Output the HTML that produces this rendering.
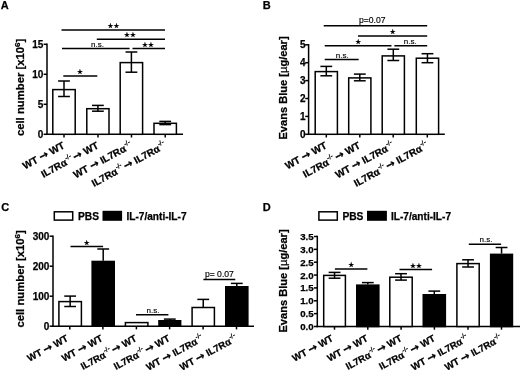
<!DOCTYPE html>
<html><head><meta charset="utf-8"><title>Figure</title>
<style>
html,body{margin:0;padding:0;background:#fff;}
body{width:520px;height:373px;overflow:hidden;}
svg{display:block;font-family:'Liberation Sans', sans-serif;}
svg text{fill:#000;}
</style></head><body>
<svg width="520" height="373" viewBox="0 0 520 373">
<rect x="0" y="0" width="520" height="373" fill="#fff"/>
<text x="0.80" y="9.40" font-size="11" font-weight="bold" text-anchor="start"  stroke="#000" stroke-width="0.25">A</text>
<line x1="47.00" y1="43.55" x2="47.00" y2="135.05" stroke="#000" stroke-width="1.5"/>
<line x1="46.25" y1="134.30" x2="183.00" y2="134.30" stroke="#000" stroke-width="1.5"/>
<line x1="43.60" y1="44.30" x2="47.00" y2="44.30" stroke="#000" stroke-width="1.5"/>
<text x="43.40" y="47.90" font-size="10" font-weight="bold" text-anchor="end"  stroke="#000" stroke-width="0.25">15</text>
<line x1="43.60" y1="74.30" x2="47.00" y2="74.30" stroke="#000" stroke-width="1.5"/>
<text x="43.40" y="77.90" font-size="10" font-weight="bold" text-anchor="end"  stroke="#000" stroke-width="0.25">10</text>
<line x1="43.60" y1="104.30" x2="47.00" y2="104.30" stroke="#000" stroke-width="1.5"/>
<text x="43.40" y="107.90" font-size="10" font-weight="bold" text-anchor="end"  stroke="#000" stroke-width="0.25">5</text>
<line x1="43.60" y1="134.30" x2="47.00" y2="134.30" stroke="#000" stroke-width="1.5"/>
<text x="43.40" y="137.90" font-size="10" font-weight="bold" text-anchor="end"  stroke="#000" stroke-width="0.25">0</text>
<line x1="64.00" y1="134.30" x2="64.00" y2="137.50" stroke="#000" stroke-width="1.5"/>
<line x1="98.00" y1="134.30" x2="98.00" y2="137.50" stroke="#000" stroke-width="1.5"/>
<line x1="131.50" y1="134.30" x2="131.50" y2="137.50" stroke="#000" stroke-width="1.5"/>
<line x1="165.20" y1="134.30" x2="165.20" y2="137.50" stroke="#000" stroke-width="1.5"/>
<text transform="translate(24.40,87.40) rotate(-90)" font-size="11.3" font-weight="bold" text-anchor="middle" stroke="#000" stroke-width="0.25">cell number [x10<tspan font-size="8" dy="-4.6">6</tspan><tspan dy="4.6">]</tspan></text>
<rect x="52.80" y="89.60" width="22.40" height="44.70" fill="#fff" stroke="#000" stroke-width="1.5"/>
<line x1="64.00" y1="81.00" x2="64.00" y2="96.50" stroke="#000" stroke-width="1.5"/>
<line x1="58.10" y1="81.00" x2="69.90" y2="81.00" stroke="#000" stroke-width="1.5"/>
<line x1="58.10" y1="96.50" x2="69.90" y2="96.50" stroke="#000" stroke-width="1.5"/>
<rect x="86.80" y="108.70" width="22.20" height="25.60" fill="#fff" stroke="#000" stroke-width="1.5"/>
<line x1="97.90" y1="105.40" x2="97.90" y2="111.20" stroke="#000" stroke-width="1.5"/>
<line x1="92.00" y1="105.40" x2="103.80" y2="105.40" stroke="#000" stroke-width="1.5"/>
<line x1="92.00" y1="111.20" x2="103.80" y2="111.20" stroke="#000" stroke-width="1.5"/>
<rect x="120.20" y="62.60" width="22.40" height="71.70" fill="#fff" stroke="#000" stroke-width="1.5"/>
<line x1="131.40" y1="52.00" x2="131.40" y2="72.20" stroke="#000" stroke-width="1.5"/>
<line x1="125.50" y1="52.00" x2="137.30" y2="52.00" stroke="#000" stroke-width="1.5"/>
<line x1="125.50" y1="72.20" x2="137.30" y2="72.20" stroke="#000" stroke-width="1.5"/>
<rect x="154.00" y="123.30" width="22.40" height="11.00" fill="#fff" stroke="#000" stroke-width="1.5"/>
<line x1="165.20" y1="121.40" x2="165.20" y2="124.60" stroke="#000" stroke-width="1.5"/>
<line x1="159.30" y1="121.40" x2="171.10" y2="121.40" stroke="#000" stroke-width="1.5"/>
<line x1="159.30" y1="124.60" x2="171.10" y2="124.60" stroke="#000" stroke-width="1.5"/>
<text transform="translate(65.40,147.60) rotate(-28.5)" font-size="10" font-weight="bold" text-anchor="end" stroke="#000" stroke-width="0.25">WT <tspan font-family="DejaVu Sans, sans-serif" font-size="11">→</tspan> WT</text>
<text transform="translate(99.30,147.60) rotate(-28.5)" font-size="10" font-weight="bold" text-anchor="end" stroke="#000" stroke-width="0.25">IL7Rα<tspan font-size="6.6" font-weight="normal" stroke-width="0.3" dx="0.5" dy="-4.6">-/-</tspan><tspan dy="4.6"> </tspan><tspan dx="-1.3" font-family="DejaVu Sans, sans-serif" font-size="11">→</tspan> WT</text>
<text transform="translate(132.80,147.60) rotate(-28.5)" font-size="10" font-weight="bold" text-anchor="end" stroke="#000" stroke-width="0.25">WT <tspan font-family="DejaVu Sans, sans-serif" font-size="11">→</tspan> IL7Rα<tspan font-size="6.6" font-weight="normal" stroke-width="0.3" dx="0.5" dy="-4.6">-/-</tspan></text>
<text transform="translate(166.60,147.60) rotate(-28.5)" font-size="10" font-weight="bold" text-anchor="end" stroke="#000" stroke-width="0.25">IL7Rα<tspan font-size="6.6" font-weight="normal" stroke-width="0.3" dx="0.5" dy="-4.6">-/-</tspan><tspan dy="4.6"> </tspan><tspan dx="-1.3" font-family="DejaVu Sans, sans-serif" font-size="11">→</tspan> IL7Rα<tspan font-size="6.6" font-weight="normal" stroke-width="0.3" dx="0.5" dy="-4.6">-/-</tspan></text>
<line x1="61.50" y1="30.00" x2="165.00" y2="30.00" stroke="#000" stroke-width="1.5"/>
<text x="113.50" y="28.00" font-size="6.6" font-weight="bold" text-anchor="middle" font-family="DejaVu Sans, sans-serif" stroke="#000" stroke-width="0.25">★★</text>
<line x1="96.80" y1="39.20" x2="165.00" y2="39.20" stroke="#000" stroke-width="1.5"/>
<text x="130.00" y="37.20" font-size="6.6" font-weight="bold" text-anchor="middle" font-family="DejaVu Sans, sans-serif" stroke="#000" stroke-width="0.25">★★</text>
<line x1="62.00" y1="48.60" x2="129.60" y2="48.60" stroke="#000" stroke-width="1.5"/>
<text x="97.50" y="46.80" font-size="8" font-weight="normal" text-anchor="middle" stroke="#000" stroke-width="0.15">n.s.</text>
<line x1="132.50" y1="48.60" x2="165.00" y2="48.60" stroke="#000" stroke-width="1.5"/>
<text x="148.00" y="46.60" font-size="6.6" font-weight="bold" text-anchor="middle" font-family="DejaVu Sans, sans-serif" stroke="#000" stroke-width="0.25">★★</text>
<line x1="63.30" y1="76.00" x2="97.30" y2="76.00" stroke="#000" stroke-width="1.5"/>
<text x="80.00" y="74.00" font-size="6.6" font-weight="bold" text-anchor="middle" font-family="DejaVu Sans, sans-serif" stroke="#000" stroke-width="0.25">★</text>
<text x="262.80" y="9.40" font-size="11" font-weight="bold" text-anchor="start"  stroke="#000" stroke-width="0.25">B</text>
<line x1="308.60" y1="44.05" x2="308.60" y2="135.05" stroke="#000" stroke-width="1.5"/>
<line x1="307.85" y1="134.30" x2="444.80" y2="134.30" stroke="#000" stroke-width="1.5"/>
<line x1="305.20" y1="44.80" x2="308.60" y2="44.80" stroke="#000" stroke-width="1.5"/>
<text x="305.50" y="48.40" font-size="10" font-weight="bold" text-anchor="end"  stroke="#000" stroke-width="0.25">5</text>
<line x1="305.20" y1="62.70" x2="308.60" y2="62.70" stroke="#000" stroke-width="1.5"/>
<text x="305.50" y="66.30" font-size="10" font-weight="bold" text-anchor="end"  stroke="#000" stroke-width="0.25">4</text>
<line x1="305.20" y1="80.60" x2="308.60" y2="80.60" stroke="#000" stroke-width="1.5"/>
<text x="305.50" y="84.20" font-size="10" font-weight="bold" text-anchor="end"  stroke="#000" stroke-width="0.25">3</text>
<line x1="305.20" y1="98.50" x2="308.60" y2="98.50" stroke="#000" stroke-width="1.5"/>
<text x="305.50" y="102.10" font-size="10" font-weight="bold" text-anchor="end"  stroke="#000" stroke-width="0.25">2</text>
<line x1="305.20" y1="116.40" x2="308.60" y2="116.40" stroke="#000" stroke-width="1.5"/>
<text x="305.50" y="120.00" font-size="10" font-weight="bold" text-anchor="end"  stroke="#000" stroke-width="0.25">1</text>
<line x1="305.20" y1="134.30" x2="308.60" y2="134.30" stroke="#000" stroke-width="1.5"/>
<text x="305.50" y="137.90" font-size="10" font-weight="bold" text-anchor="end"  stroke="#000" stroke-width="0.25">0</text>
<line x1="326.30" y1="134.30" x2="326.30" y2="137.50" stroke="#000" stroke-width="1.5"/>
<line x1="359.80" y1="134.30" x2="359.80" y2="137.50" stroke="#000" stroke-width="1.5"/>
<line x1="393.20" y1="134.30" x2="393.20" y2="137.50" stroke="#000" stroke-width="1.5"/>
<line x1="427.30" y1="134.30" x2="427.30" y2="137.50" stroke="#000" stroke-width="1.5"/>
<text transform="translate(286.50,88.00) rotate(-90)" font-size="11.1" font-weight="bold" text-anchor="middle" stroke="#000" stroke-width="0.25">Evans Blue [<tspan font-weight="normal">µ</tspan>g/ear]</text>
<rect x="315.20" y="71.60" width="22.20" height="62.70" fill="#fff" stroke="#000" stroke-width="1.5"/>
<line x1="326.30" y1="66.40" x2="326.30" y2="75.80" stroke="#000" stroke-width="1.5"/>
<line x1="320.40" y1="66.40" x2="332.20" y2="66.40" stroke="#000" stroke-width="1.5"/>
<line x1="320.40" y1="75.80" x2="332.20" y2="75.80" stroke="#000" stroke-width="1.5"/>
<rect x="348.70" y="77.90" width="22.20" height="56.40" fill="#fff" stroke="#000" stroke-width="1.5"/>
<line x1="359.80" y1="74.10" x2="359.80" y2="80.80" stroke="#000" stroke-width="1.5"/>
<line x1="353.90" y1="74.10" x2="365.70" y2="74.10" stroke="#000" stroke-width="1.5"/>
<line x1="353.90" y1="80.80" x2="365.70" y2="80.80" stroke="#000" stroke-width="1.5"/>
<rect x="382.20" y="55.90" width="22.20" height="78.40" fill="#fff" stroke="#000" stroke-width="1.5"/>
<line x1="393.30" y1="49.20" x2="393.30" y2="60.50" stroke="#000" stroke-width="1.5"/>
<line x1="387.40" y1="49.20" x2="399.20" y2="49.20" stroke="#000" stroke-width="1.5"/>
<line x1="387.40" y1="60.50" x2="399.20" y2="60.50" stroke="#000" stroke-width="1.5"/>
<rect x="416.30" y="58.20" width="22.30" height="76.10" fill="#fff" stroke="#000" stroke-width="1.5"/>
<line x1="427.45" y1="53.70" x2="427.45" y2="62.70" stroke="#000" stroke-width="1.5"/>
<line x1="421.55" y1="53.70" x2="433.35" y2="53.70" stroke="#000" stroke-width="1.5"/>
<line x1="421.55" y1="62.70" x2="433.35" y2="62.70" stroke="#000" stroke-width="1.5"/>
<text transform="translate(327.70,147.60) rotate(-28.5)" font-size="10" font-weight="bold" text-anchor="end" stroke="#000" stroke-width="0.25">WT <tspan font-family="DejaVu Sans, sans-serif" font-size="11">→</tspan> WT</text>
<text transform="translate(361.20,147.60) rotate(-28.5)" font-size="10" font-weight="bold" text-anchor="end" stroke="#000" stroke-width="0.25">IL7Rα<tspan font-size="6.6" font-weight="normal" stroke-width="0.3" dx="0.5" dy="-4.6">-/-</tspan><tspan dy="4.6"> </tspan><tspan dx="-1.3" font-family="DejaVu Sans, sans-serif" font-size="11">→</tspan> WT</text>
<text transform="translate(394.70,147.60) rotate(-28.5)" font-size="10" font-weight="bold" text-anchor="end" stroke="#000" stroke-width="0.25">WT <tspan font-family="DejaVu Sans, sans-serif" font-size="11">→</tspan> IL7Rα<tspan font-size="6.6" font-weight="normal" stroke-width="0.3" dx="0.5" dy="-4.6">-/-</tspan></text>
<text transform="translate(428.85,147.60) rotate(-28.5)" font-size="10" font-weight="bold" text-anchor="end" stroke="#000" stroke-width="0.25">IL7Rα<tspan font-size="6.6" font-weight="normal" stroke-width="0.3" dx="0.5" dy="-4.6">-/-</tspan><tspan dy="4.6"> </tspan><tspan dx="-1.3" font-family="DejaVu Sans, sans-serif" font-size="11">→</tspan> IL7Rα<tspan font-size="6.6" font-weight="normal" stroke-width="0.3" dx="0.5" dy="-4.6">-/-</tspan></text>
<line x1="323.70" y1="25.70" x2="427.20" y2="25.70" stroke="#000" stroke-width="1.5"/>
<text x="372.30" y="23.30" font-size="8.6" font-weight="normal" text-anchor="middle" stroke="#000" stroke-width="0.15">p=0.07</text>
<line x1="358.00" y1="36.10" x2="427.20" y2="36.10" stroke="#000" stroke-width="1.5"/>
<text x="392.80" y="34.10" font-size="6.6" font-weight="bold" text-anchor="middle" font-family="DejaVu Sans, sans-serif" stroke="#000" stroke-width="0.25">★</text>
<line x1="324.70" y1="45.80" x2="391.50" y2="45.80" stroke="#000" stroke-width="1.5"/>
<text x="358.30" y="43.80" font-size="6.6" font-weight="bold" text-anchor="middle" font-family="DejaVu Sans, sans-serif" stroke="#000" stroke-width="0.25">★</text>
<line x1="394.40" y1="45.80" x2="427.20" y2="45.80" stroke="#000" stroke-width="1.5"/>
<text x="410.30" y="44.00" font-size="8" font-weight="normal" text-anchor="middle" stroke="#000" stroke-width="0.15">n.s.</text>
<line x1="324.70" y1="59.60" x2="358.70" y2="59.60" stroke="#000" stroke-width="1.5"/>
<text x="342.20" y="57.80" font-size="8" font-weight="normal" text-anchor="middle" stroke="#000" stroke-width="0.15">n.s.</text>
<text x="1.20" y="211.00" font-size="11" font-weight="bold" text-anchor="start"  stroke="#000" stroke-width="0.25">C</text>
<line x1="53.00" y1="235.45" x2="53.00" y2="326.95" stroke="#000" stroke-width="1.5"/>
<line x1="52.25" y1="326.20" x2="254.00" y2="326.20" stroke="#000" stroke-width="1.5"/>
<line x1="49.60" y1="236.20" x2="53.00" y2="236.20" stroke="#000" stroke-width="1.5"/>
<text x="49.40" y="239.80" font-size="10" font-weight="bold" text-anchor="end"  stroke="#000" stroke-width="0.25">300</text>
<line x1="49.60" y1="266.20" x2="53.00" y2="266.20" stroke="#000" stroke-width="1.5"/>
<text x="49.40" y="269.80" font-size="10" font-weight="bold" text-anchor="end"  stroke="#000" stroke-width="0.25">200</text>
<line x1="49.60" y1="296.20" x2="53.00" y2="296.20" stroke="#000" stroke-width="1.5"/>
<text x="49.40" y="299.80" font-size="10" font-weight="bold" text-anchor="end"  stroke="#000" stroke-width="0.25">100</text>
<line x1="49.60" y1="326.20" x2="53.00" y2="326.20" stroke="#000" stroke-width="1.5"/>
<text x="49.40" y="329.80" font-size="10" font-weight="bold" text-anchor="end"  stroke="#000" stroke-width="0.25">0</text>
<line x1="69.80" y1="326.20" x2="69.80" y2="329.40" stroke="#000" stroke-width="1.5"/>
<line x1="102.90" y1="326.20" x2="102.90" y2="329.40" stroke="#000" stroke-width="1.5"/>
<line x1="136.40" y1="326.20" x2="136.40" y2="329.40" stroke="#000" stroke-width="1.5"/>
<line x1="169.60" y1="326.20" x2="169.60" y2="329.40" stroke="#000" stroke-width="1.5"/>
<line x1="203.10" y1="326.20" x2="203.10" y2="329.40" stroke="#000" stroke-width="1.5"/>
<line x1="236.50" y1="326.20" x2="236.50" y2="329.40" stroke="#000" stroke-width="1.5"/>
<text transform="translate(24.40,278.90) rotate(-90)" font-size="11.3" font-weight="bold" text-anchor="middle" stroke="#000" stroke-width="0.25">cell number [x10<tspan font-size="8" dy="-4.6">6</tspan><tspan dy="4.6">]</tspan></text>
<rect x="58.90" y="301.60" width="22.50" height="24.60" fill="#fff" stroke="#000" stroke-width="1.5"/>
<line x1="70.15" y1="296.10" x2="70.15" y2="306.50" stroke="#000" stroke-width="1.5"/>
<line x1="64.25" y1="296.10" x2="76.05" y2="296.10" stroke="#000" stroke-width="1.5"/>
<line x1="64.25" y1="306.50" x2="76.05" y2="306.50" stroke="#000" stroke-width="1.5"/>
<rect x="91.40" y="260.70" width="23.60" height="66.25" fill="#000"/>
<line x1="103.20" y1="249.00" x2="103.20" y2="260.70" stroke="#000" stroke-width="1.5"/>
<line x1="97.30" y1="249.00" x2="109.10" y2="249.00" stroke="#000" stroke-width="1.5"/>
<rect x="125.40" y="322.60" width="22.50" height="3.60" fill="#fff" stroke="#000" stroke-width="1.5"/>
<rect x="158.20" y="320.00" width="23.20" height="6.95" fill="#000"/>
<line x1="169.80" y1="319.10" x2="169.80" y2="320.00" stroke="#000" stroke-width="1.5"/>
<line x1="163.90" y1="319.10" x2="175.70" y2="319.10" stroke="#000" stroke-width="1.5"/>
<rect x="192.10" y="307.50" width="22.30" height="18.70" fill="#fff" stroke="#000" stroke-width="1.5"/>
<line x1="203.25" y1="299.40" x2="203.25" y2="307.10" stroke="#000" stroke-width="1.5"/>
<line x1="197.35" y1="299.40" x2="209.15" y2="299.40" stroke="#000" stroke-width="1.5"/>
<rect x="225.00" y="286.00" width="23.60" height="40.95" fill="#000"/>
<line x1="236.80" y1="283.40" x2="236.80" y2="286.00" stroke="#000" stroke-width="1.5"/>
<line x1="230.90" y1="283.40" x2="242.70" y2="283.40" stroke="#000" stroke-width="1.5"/>
<text transform="translate(68.95,340.50) rotate(-28.5)" font-size="9.7" font-weight="bold" text-anchor="end" stroke="#000" stroke-width="0.25">WT <tspan font-family="DejaVu Sans, sans-serif" font-size="11">→</tspan> WT</text>
<text transform="translate(103.40,340.50) rotate(-28.5)" font-size="9.7" font-weight="bold" text-anchor="end" stroke="#000" stroke-width="0.25">WT <tspan font-family="DejaVu Sans, sans-serif" font-size="11">→</tspan> WT</text>
<text transform="translate(137.45,340.50) rotate(-28.5)" font-size="9.7" font-weight="bold" text-anchor="end" stroke="#000" stroke-width="0.25">IL7Rα<tspan font-size="6.6" font-weight="normal" stroke-width="0.3" dx="0.5" dy="-4.6">-/-</tspan><tspan dy="4.6"> </tspan><tspan dx="-1.3" font-family="DejaVu Sans, sans-serif" font-size="11">→</tspan> WT</text>
<text transform="translate(170.60,340.50) rotate(-28.5)" font-size="9.7" font-weight="bold" text-anchor="end" stroke="#000" stroke-width="0.25">IL7Rα<tspan font-size="6.6" font-weight="normal" stroke-width="0.3" dx="0.5" dy="-4.6">-/-</tspan><tspan dy="4.6"> </tspan><tspan dx="-1.3" font-family="DejaVu Sans, sans-serif" font-size="11">→</tspan> WT</text>
<text transform="translate(204.25,340.50) rotate(-28.5)" font-size="9.7" font-weight="bold" text-anchor="end" stroke="#000" stroke-width="0.25">WT <tspan font-family="DejaVu Sans, sans-serif" font-size="11">→</tspan> IL7Rα<tspan font-size="6.6" font-weight="normal" stroke-width="0.3" dx="0.5" dy="-4.6">-/-</tspan></text>
<text transform="translate(237.80,340.50) rotate(-28.5)" font-size="9.7" font-weight="bold" text-anchor="end" stroke="#000" stroke-width="0.25">WT <tspan font-family="DejaVu Sans, sans-serif" font-size="11">→</tspan> IL7Rα<tspan font-size="6.6" font-weight="normal" stroke-width="0.3" dx="0.5" dy="-4.6">-/-</tspan></text>
<rect x="54.3" y="211.8" width="18.4" height="8.3" fill="#fff" stroke="#000" stroke-width="1.5"/>
<text x="78.00" y="220.40" font-size="10.2" font-weight="bold" text-anchor="start"  stroke="#000" stroke-width="0.25">PBS</text>
<rect x="102.5" y="210.8" width="19.6" height="10.0" fill="#000"/>
<text x="126.50" y="220.40" font-size="10.1" font-weight="bold" text-anchor="start"  stroke="#000" stroke-width="0.25">IL-7/anti-IL-7</text>
<line x1="70.50" y1="246.50" x2="103.10" y2="246.50" stroke="#000" stroke-width="1.5"/>
<text x="86.60" y="244.50" font-size="6.6" font-weight="bold" text-anchor="middle" font-family="DejaVu Sans, sans-serif" stroke="#000" stroke-width="0.25">★</text>
<line x1="136.00" y1="314.80" x2="168.40" y2="314.80" stroke="#000" stroke-width="1.5"/>
<text x="153.00" y="313.00" font-size="8" font-weight="normal" text-anchor="middle" stroke="#000" stroke-width="0.15">n.s.</text>
<line x1="203.40" y1="279.60" x2="235.30" y2="279.60" stroke="#000" stroke-width="1.5"/>
<text x="219.40" y="277.20" font-size="8.6" font-weight="normal" text-anchor="middle" stroke="#000" stroke-width="0.15">p= 0.07</text>
<text x="262.80" y="211.00" font-size="11" font-weight="bold" text-anchor="start"  stroke="#000" stroke-width="0.25">D</text>
<line x1="317.30" y1="235.75" x2="317.30" y2="327.25" stroke="#000" stroke-width="1.5"/>
<line x1="316.55" y1="326.50" x2="520.00" y2="326.50" stroke="#000" stroke-width="1.5"/>
<line x1="313.90" y1="236.48" x2="317.30" y2="236.48" stroke="#000" stroke-width="1.5"/>
<text x="313.70" y="239.97" font-size="9.7" font-weight="bold" text-anchor="end"  stroke="#000" stroke-width="0.25">3.5</text>
<line x1="313.90" y1="249.34" x2="317.30" y2="249.34" stroke="#000" stroke-width="1.5"/>
<text x="313.70" y="252.83" font-size="9.7" font-weight="bold" text-anchor="end"  stroke="#000" stroke-width="0.25">3.0</text>
<line x1="313.90" y1="262.20" x2="317.30" y2="262.20" stroke="#000" stroke-width="1.5"/>
<text x="313.70" y="265.69" font-size="9.7" font-weight="bold" text-anchor="end"  stroke="#000" stroke-width="0.25">2.5</text>
<line x1="313.90" y1="275.06" x2="317.30" y2="275.06" stroke="#000" stroke-width="1.5"/>
<text x="313.70" y="278.55" font-size="9.7" font-weight="bold" text-anchor="end"  stroke="#000" stroke-width="0.25">2.0</text>
<line x1="313.90" y1="287.92" x2="317.30" y2="287.92" stroke="#000" stroke-width="1.5"/>
<text x="313.70" y="291.41" font-size="9.7" font-weight="bold" text-anchor="end"  stroke="#000" stroke-width="0.25">1.5</text>
<line x1="313.90" y1="300.78" x2="317.30" y2="300.78" stroke="#000" stroke-width="1.5"/>
<text x="313.70" y="304.27" font-size="9.7" font-weight="bold" text-anchor="end"  stroke="#000" stroke-width="0.25">1.0</text>
<line x1="313.90" y1="313.64" x2="317.30" y2="313.64" stroke="#000" stroke-width="1.5"/>
<text x="313.70" y="317.13" font-size="9.7" font-weight="bold" text-anchor="end"  stroke="#000" stroke-width="0.25">0.5</text>
<line x1="313.90" y1="326.50" x2="317.30" y2="326.50" stroke="#000" stroke-width="1.5"/>
<text x="313.70" y="329.99" font-size="9.7" font-weight="bold" text-anchor="end"  stroke="#000" stroke-width="0.25">0.0</text>
<line x1="334.50" y1="326.50" x2="334.50" y2="329.70" stroke="#000" stroke-width="1.5"/>
<line x1="367.80" y1="326.50" x2="367.80" y2="329.70" stroke="#000" stroke-width="1.5"/>
<line x1="401.10" y1="326.50" x2="401.10" y2="329.70" stroke="#000" stroke-width="1.5"/>
<line x1="434.40" y1="326.50" x2="434.40" y2="329.70" stroke="#000" stroke-width="1.5"/>
<line x1="468.00" y1="326.50" x2="468.00" y2="329.70" stroke="#000" stroke-width="1.5"/>
<line x1="501.50" y1="326.50" x2="501.50" y2="329.70" stroke="#000" stroke-width="1.5"/>
<text transform="translate(286.50,281.00) rotate(-90)" font-size="11.1" font-weight="bold" text-anchor="middle" stroke="#000" stroke-width="0.25">Evans Blue [<tspan font-weight="normal">µ</tspan>g/ear]</text>
<rect x="323.70" y="275.40" width="21.70" height="51.10" fill="#fff" stroke="#000" stroke-width="1.5"/>
<line x1="334.55" y1="272.40" x2="334.55" y2="278.20" stroke="#000" stroke-width="1.5"/>
<line x1="328.65" y1="272.40" x2="340.45" y2="272.40" stroke="#000" stroke-width="1.5"/>
<line x1="328.65" y1="278.20" x2="340.45" y2="278.20" stroke="#000" stroke-width="1.5"/>
<rect x="356.00" y="284.40" width="23.60" height="42.85" fill="#000"/>
<line x1="367.80" y1="282.60" x2="367.80" y2="284.40" stroke="#000" stroke-width="1.5"/>
<line x1="361.90" y1="282.60" x2="373.70" y2="282.60" stroke="#000" stroke-width="1.5"/>
<rect x="389.80" y="277.20" width="22.40" height="49.30" fill="#fff" stroke="#000" stroke-width="1.5"/>
<line x1="401.00" y1="273.70" x2="401.00" y2="280.10" stroke="#000" stroke-width="1.5"/>
<line x1="395.10" y1="273.70" x2="406.90" y2="273.70" stroke="#000" stroke-width="1.5"/>
<line x1="395.10" y1="280.10" x2="406.90" y2="280.10" stroke="#000" stroke-width="1.5"/>
<rect x="422.50" y="294.00" width="23.60" height="33.25" fill="#000"/>
<line x1="434.30" y1="291.10" x2="434.30" y2="294.00" stroke="#000" stroke-width="1.5"/>
<line x1="428.40" y1="291.10" x2="440.20" y2="291.10" stroke="#000" stroke-width="1.5"/>
<rect x="456.90" y="263.60" width="22.30" height="62.90" fill="#fff" stroke="#000" stroke-width="1.5"/>
<line x1="468.05" y1="259.80" x2="468.05" y2="267.00" stroke="#000" stroke-width="1.5"/>
<line x1="462.15" y1="259.80" x2="473.95" y2="259.80" stroke="#000" stroke-width="1.5"/>
<line x1="462.15" y1="267.00" x2="473.95" y2="267.00" stroke="#000" stroke-width="1.5"/>
<rect x="489.90" y="253.60" width="23.30" height="73.65" fill="#000"/>
<line x1="501.55" y1="247.50" x2="501.55" y2="253.60" stroke="#000" stroke-width="1.5"/>
<line x1="495.65" y1="247.50" x2="507.45" y2="247.50" stroke="#000" stroke-width="1.5"/>
<text transform="translate(333.95,340.50) rotate(-28.5)" font-size="9.7" font-weight="bold" text-anchor="end" stroke="#000" stroke-width="0.25">WT <tspan font-family="DejaVu Sans, sans-serif" font-size="11">→</tspan> WT</text>
<text transform="translate(368.80,340.50) rotate(-28.5)" font-size="9.7" font-weight="bold" text-anchor="end" stroke="#000" stroke-width="0.25">WT <tspan font-family="DejaVu Sans, sans-serif" font-size="11">→</tspan> WT</text>
<text transform="translate(402.60,340.50) rotate(-28.5)" font-size="9.7" font-weight="bold" text-anchor="end" stroke="#000" stroke-width="0.25">IL7Rα<tspan font-size="6.6" font-weight="normal" stroke-width="0.3" dx="0.5" dy="-4.6">-/-</tspan><tspan dy="4.6"> </tspan><tspan dx="-1.3" font-family="DejaVu Sans, sans-serif" font-size="11">→</tspan> WT</text>
<text transform="translate(435.90,340.50) rotate(-28.5)" font-size="9.7" font-weight="bold" text-anchor="end" stroke="#000" stroke-width="0.25">IL7Rα<tspan font-size="6.6" font-weight="normal" stroke-width="0.3" dx="0.5" dy="-4.6">-/-</tspan><tspan dy="4.6"> </tspan><tspan dx="-1.3" font-family="DejaVu Sans, sans-serif" font-size="11">→</tspan> WT</text>
<text transform="translate(469.25,340.50) rotate(-28.5)" font-size="9.7" font-weight="bold" text-anchor="end" stroke="#000" stroke-width="0.25">WT <tspan font-family="DejaVu Sans, sans-serif" font-size="11">→</tspan> IL7Rα<tspan font-size="6.6" font-weight="normal" stroke-width="0.3" dx="0.5" dy="-4.6">-/-</tspan></text>
<text transform="translate(502.75,340.50) rotate(-28.5)" font-size="9.7" font-weight="bold" text-anchor="end" stroke="#000" stroke-width="0.25">WT <tspan font-family="DejaVu Sans, sans-serif" font-size="11">→</tspan> IL7Rα<tspan font-size="6.6" font-weight="normal" stroke-width="0.3" dx="0.5" dy="-4.6">-/-</tspan></text>
<rect x="318.9" y="211.8" width="18.4" height="8.3" fill="#fff" stroke="#000" stroke-width="1.5"/>
<text x="342.40" y="220.40" font-size="10.2" font-weight="bold" text-anchor="start"  stroke="#000" stroke-width="0.25">PBS</text>
<rect x="367.0" y="210.8" width="19.9" height="10.0" fill="#000"/>
<text x="391.00" y="220.40" font-size="10.1" font-weight="bold" text-anchor="start"  stroke="#000" stroke-width="0.25">IL-7/anti-IL-7</text>
<line x1="334.90" y1="269.00" x2="367.40" y2="269.00" stroke="#000" stroke-width="1.5"/>
<text x="351.30" y="267.00" font-size="6.6" font-weight="bold" text-anchor="middle" font-family="DejaVu Sans, sans-serif" stroke="#000" stroke-width="0.25">★</text>
<line x1="399.50" y1="269.50" x2="432.10" y2="269.50" stroke="#000" stroke-width="1.5"/>
<text x="416.00" y="267.50" font-size="6.6" font-weight="bold" text-anchor="middle" font-family="DejaVu Sans, sans-serif" stroke="#000" stroke-width="0.25">★★</text>
<line x1="468.80" y1="244.30" x2="501.10" y2="244.30" stroke="#000" stroke-width="1.5"/>
<text x="486.00" y="241.70" font-size="8" font-weight="normal" text-anchor="middle" stroke="#000" stroke-width="0.15">n.s.</text>
</svg>
</body></html>
